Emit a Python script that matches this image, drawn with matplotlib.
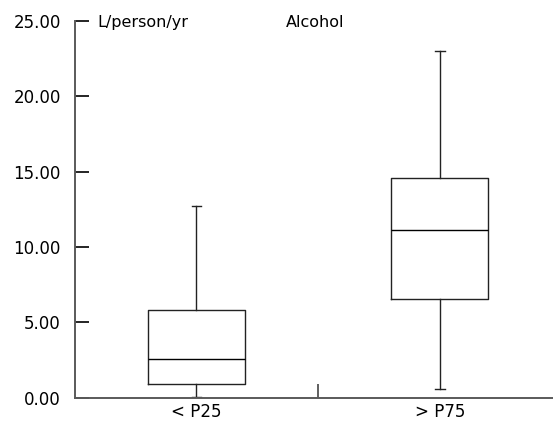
import matplotlib
matplotlib.use("Agg")
import matplotlib.pyplot as plt
from matplotlib.ticker import FixedLocator

# Alcohol intake (L/person/yr) by group
categories = ["< P25", "> P75"]
whisker_low = [0.05, 0.55]
q1 = [0.90, 6.55]
median = [2.55, 11.10]
q3 = [5.84, 14.60]
whisker_high = [12.70, 23.00]
y_ticks = [0, 5, 10, 15, 20, 25]

plt.rcParams["font.family"] = ["DejaVu Sans"]

fig = plt.figure(figsize=(5.53, 4.23), dpi=100)
ax = fig.add_axes([0.1351, 0.0598, 0.88, 0.891])

stats = []
for i, name in enumerate(categories):
    stats.append({
        "label": name,
        "whislo": whisker_low[i],
        "q1": q1[i],
        "med": median[i],
        "q3": q3[i],
        "whishi": whisker_high[i],
        "fliers": [],
    })

line_col = "#222222"
ax.bxp(
    stats,
    positions=[0, 1],
    widths=0.4,
    showfliers=False,
    boxprops=dict(color=line_col, linewidth=1.0),
    medianprops=dict(color="black", linewidth=1.0),
    whiskerprops=dict(color=line_col, linewidth=1.0),
    capprops=dict(color=line_col, linewidth=1.0),
    capwidths=0.04,
)

ax.set_xlim(-0.5, 1.5)
ax.set_ylim(0, 25)

ax.spines["top"].set_visible(False)
ax.spines["right"].set_visible(False)
for side in ("left", "bottom"):
    ax.spines[side].set_color("#5a5a5a")
    ax.spines[side].set_linewidth(1.4)

ax.set_yticks(y_ticks)
ax.set_yticklabels([f"{v:.2f}" for v in y_ticks])
ax.tick_params(axis="y", direction="in", length=10, width=1.2,
               color="black", labelsize=12, pad=10)

ax.set_xticks([0, 1])
ax.set_xticklabels(categories)
ax.tick_params(axis="x", which="major", length=0, labelsize=12, pad=4)
ax.xaxis.set_minor_locator(FixedLocator([0.5]))
ax.tick_params(axis="x", which="minor", direction="in", length=10,
               width=1.2, color="#444444")

ax.text(0.046, 0.995, "L/person/yr", transform=ax.transAxes,
        fontsize=11.5, ha="left", va="center")
ax.text(0.495, 0.995, "Alcohol", transform=ax.transAxes,
        fontsize=11.5, ha="center", va="center")

fig.savefig("out.png", dpi=100)
